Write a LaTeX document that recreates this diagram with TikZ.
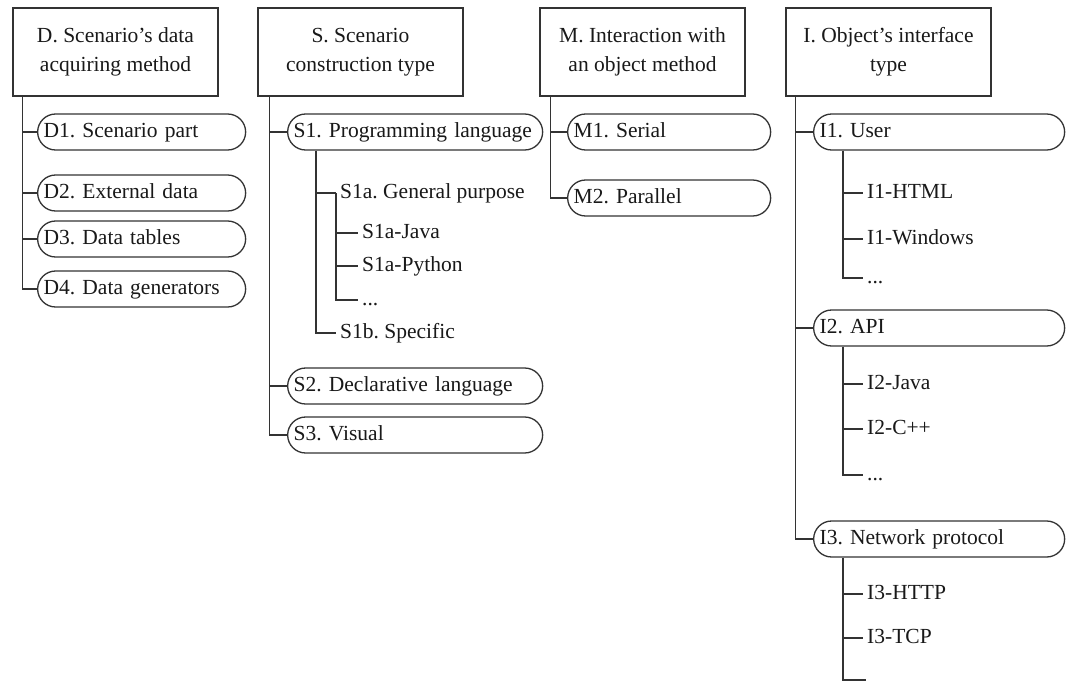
\documentclass[tikz,border=0pt]{standalone}
\usepackage{fontspec}
\setmainfont{Liberation Serif}
\usetikzlibrary{calc}
\begin{document}
\frenchspacing
\begin{tikzpicture}[x=1pt,y=-1pt,
  link/.style={draw=black!80, line width=1.3pt},
  headbox/.style={draw=black!80, line width=1.3pt, minimum width=205pt,
    minimum height=88pt, align=center, inner sep=0pt, text=black!90,
    font=\fontsize{21.5}{29}\selectfont},
  pill/.style={draw=black!80, line width=1.3pt, rounded corners=18pt,
    minimum height=36pt, anchor=west, align=left, text width=#1,
    inner xsep=6pt, inner ysep=0pt, text height=15pt, text depth=5pt,
    text=black!90, font=\fontsize{21.5}{26}\selectfont},
  leaf/.style={anchor=west, inner xsep=4pt, inner ysep=0pt,
    text height=15pt, text depth=5pt, text=black!90,
    font=\fontsize{21.5}{26}\selectfont},
]
\fill[white] (0,0) rectangle (1066,683);
\useasboundingbox (0,0) rectangle (1066,683);
\clip (0,0) rectangle (1066,683);

% category headers
\node[headbox] (D) at (115.5,52) {D. Scenario’s data\\acquiring method};
\node[headbox] (S) at (360.5,52) {S. Scenario\\construction type};
\node[headbox] (M) at (642.5,52) {M. Interaction with\\an object method};
\node[headbox] (I) at (888.5,52) {I. Object’s interface\\type};

% D: data acquiring method
\node[pill=196pt] (d1) at (37,132) {D1. Scenario part};
\node[pill=196pt] (d2) at (37,193) {D2. External data};
\node[pill=196pt] (d3) at (37,239) {D3. Data tables};
\node[pill=196pt] (d4) at (37,289) {D4. Data generators};
\coordinate (dT) at ($(D.south west)+(10,0)$);
\draw[link] (dT) |- (d4.west);
\foreach \n in {d1,d2,d3} \draw[link] (dT |- \n.west) -- (\n.west);

% S: scenario construction type
\node[pill=243pt] (s1) at (287,132) {S1. Programming language};
\node[pill=243pt] (s2) at (287,386) {S2. Declarative language};
\node[pill=243pt] (s3) at (287,435) {S3. Visual};
\coordinate (sT) at ($(S.south west)+(12,0)$);
\draw[link] (sT) |- (s3.west);
\foreach \n in {s1,s2} \draw[link] (sT |- \n.west) -- (\n.west);

\node[leaf] (s1a) at (336,193) {S1a. General purpose};
\node[leaf] (s1aj) at (358,233) {S1a-Java};
\node[leaf] (s1ap) at (358,266) {S1a-Python};
\node[leaf] (s1ax) at (358,300) {...};
\node[leaf] (s1b) at (336,333) {S1b. Specific};
\coordinate (s1T) at ($(s1.south west)+(29,0)$);
\draw[link] (s1T) |- (s1b.west);
\draw[link] (s1T |- s1a.west) -- (s1a.west);
\draw[link] (s1a.west) |- (s1ax.west);
\foreach \n in {s1aj,s1ap} \draw[link] (s1a.west |- \n.west) -- (\n.west);

% M: interaction with an object method
\node[pill=191pt] (m1) at (567,132) {M1. Serial};
\node[pill=191pt] (m2) at (567,198) {M2. Parallel};
\coordinate (mT) at ($(M.south west)+(11,0)$);
\draw[link] (mT) |- (m2.west);
\draw[link] (mT |- m1.west) -- (m1.west);

% I: object's interface type
\node[pill=239pt] (i1) at (813,132) {I1. User};
\node[pill=239pt] (i2) at (813,328) {I2. API};
\node[pill=239pt] (i3) at (813,539) {I3. Network protocol};
\coordinate (iT) at ($(I.south west)+(10,0)$);
\draw[link] (iT) |- (i3.west);
\foreach \n in {i1,i2} \draw[link] (iT |- \n.west) -- (\n.west);

\node[leaf] (i1a) at (863,193) {I1-HTML};
\node[leaf] (i1b) at (863,239) {I1-Windows};
\node[leaf] (i1x) at (863,278) {...};
\coordinate (i1T) at ($(i1.south west)+(30,0)$);
\draw[link] (i1T) |- (i1x.west);
\foreach \n in {i1a,i1b} \draw[link] (i1T |- \n.west) -- (\n.west);

\node[leaf] (i2a) at (863,384) {I2-Java};
\node[leaf] (i2b) at (863,429) {I2-C++};
\node[leaf] (i2x) at (863,475) {...};
\coordinate (i2T) at ($(i2.south west)+(30,0)$);
\draw[link] (i2T) |- (i2x.west);
\foreach \n in {i2a,i2b} \draw[link] (i2T |- \n.west) -- (\n.west);

\node[leaf] (i3a) at (863,594) {I3-HTTP};
\node[leaf] (i3b) at (863,638) {I3-TCP};
\coordinate (i3x) at (866,680);
\coordinate (i3T) at ($(i3.south west)+(30,0)$);
\draw[link] (i3T) |- (i3x);
\foreach \n in {i3a,i3b} \draw[link] (i3T |- \n.west) -- (\n.west);
\end{tikzpicture}
\end{document}
